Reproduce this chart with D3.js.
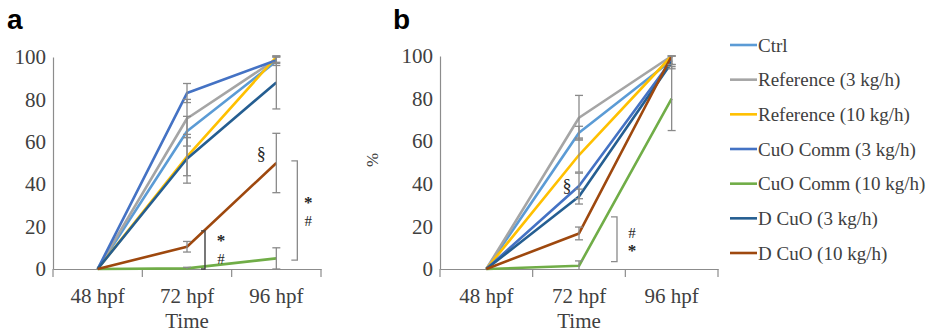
<!DOCTYPE html>
<html><head><meta charset="utf-8">
<script src="https://cdn.jsdelivr.net/npm/d3@7"></script>
<style>body{margin:0;background:#fff}svg{display:block}</style>
</head><body><svg id="c" width="934" height="333"></svg>
<script>
const times = ["48 hpf", "72 hpf", "96 hpf"];
const seriesNames = ["Ctrl", "Reference (3 kg/h)", "Reference (10 kg/h)", "CuO Comm (3 kg/h)", "CuO Comm (10 kg/h)", "D CuO (3 kg/h)", "D CuO (10 kg/h)"];
const seriesColors = ["#5B9BD5", "#A5A5A5", "#FFC000", "#4472C4", "#70AD47", "#255E91", "#9E480E"];
const yTicks = [0, 20, 40, 60, 80, 100];
// panel a
const valuesA = [[0, 65, 98], [0, 71, 99], [0, 53, 100], [0, 83, 98.5], [0, 0.3, 5], [0, 52, 88], [0, 10.5, 50]];
const errorsA = [[0, 7, 2], [0, 9, 1.5], [0, 9, 0], [0, 4.5, 1.5], [0, 0.5, 5], [0, 11.5, 12.5], [0, 2.5, 14]];
// panel b
const valuesB = [[0, 64, 98], [0, 71, 100], [0, 53.5, 100], [0, 39, 98], [0, 1.5, 80], [0, 34, 97], [0, 16.7, 100]];
const errorsB = [[0, 3, 2], [0, 10.5, 0], [0, 8, 0], [0, 6, 2], [0, 2.3, 15], [0, 3.5, 3], [0, 3, 0]];

const svg = d3.select("#c");
const SERIF = "'Liberation Serif', 'DejaVu Serif', serif";
const axisColor = "#8c8c8c";

function panel(opts) {
  const x = d3.scaleBand().domain(times).range(opts.xr).padding(0);
  const y = d3.scaleLinear().domain([0, 100]).range(opts.yr);
  const g = svg.append("g");
  const cx = t => x(t) + x.bandwidth() / 2;

  const ya = g.append("g").attr("transform", `translate(${opts.xr[0]},0)`)
    .call(d3.axisLeft(y).tickValues(yTicks).tickSize(0).tickPadding(7));
  ya.select(".domain").attr("stroke", axisColor).attr("stroke-width", 1.2);
  ya.selectAll("text").attr("font-family", SERIF).attr("font-size", 21).attr("fill", "#404040");

  const xa = g.append("g").attr("transform", `translate(0,${opts.yr[0]})`)
    .call(d3.axisBottom(x).tickSize(0).tickPadding(19));
  xa.select(".domain").attr("stroke", axisColor).attr("stroke-width", 1.2);
  xa.selectAll("text").attr("font-family", SERIF).attr("font-size", 21).attr("fill", "#404040");
  const bounds = times.map(t => x(t)).concat([x(times[times.length - 1]) + x.bandwidth()]);
  g.selectAll(".xt").data(bounds).join("line")
    .attr("x1", d => d).attr("x2", d => d)
    .attr("y1", opts.yr[0]).attr("y2", opts.yr[0] + 8)
    .attr("stroke", axisColor).attr("stroke-width", 1.2);

  const line = d3.line().x((d, i) => cx(times[i])).y(d => y(d));
  opts.values.forEach((vals, s) => {
    g.append("path").attr("d", line(vals)).attr("fill", "none")
      .attr("stroke", seriesColors[s]).attr("stroke-width", 2.6)
      .attr("stroke-linejoin", "round");
  });
  opts.values.forEach((vals, s) => {
    vals.forEach((v, i) => {
      const e = opts.errors[s][i];
      if (!e) return;
      const px = cx(times[i]);
      const lo = y(Math.max(0, v - e)), hi = y(v + e);
      g.append("line").attr("x1", px).attr("x2", px).attr("y1", lo).attr("y2", hi)
        .attr("stroke", "#8a8a8a").attr("stroke-width", 1.3);
      [hi, v - e >= 0 ? lo : null].forEach(yy => {
        if (yy === null) return;
        g.append("line").attr("x1", px - 4).attr("x2", px + 4).attr("y1", yy).attr("y2", yy)
          .attr("stroke", "#8a8a8a").attr("stroke-width", 1.3);
      });
    });
  });

  svg.append("text").attr("x", opts.letterX).attr("y", 29).text(opts.letter)
    .attr("font-family", "'Liberation Sans', Arial, sans-serif").attr("font-weight", "bold")
    .attr("font-size", 28).attr("fill", "#000");
  g.append("text").attr("x", cx(times[1])).attr("y", 328).attr("text-anchor", "middle")
    .text("Time").attr("font-family", SERIF).attr("font-size", 21).attr("fill", "#404040");
  return { x, y, g, cx };
}

function bracket(g, xPos, yTop, yBot, arm, color) {
  g.append("path").attr("d", `M${xPos - arm},${yTop}H${xPos}V${yBot}H${xPos - arm}`)
    .attr("fill", "none").attr("stroke", color).attr("stroke-width", 1.3);
}
function note(g, txt, xx, yy, size) {
  g.append("text").attr("x", xx).attr("y", yy).text(txt).attr("text-anchor", "middle")
    .attr("font-family", SERIF).attr("font-size", size || 17).attr("fill", "#262626");
}
function sym(g, txt, xx, yy) {
  g.append("text").attr("x", xx).attr("y", yy).text(txt).attr("text-anchor", "middle")
    .attr("font-family", SERIF).attr("font-size", txt === "*" ? 17 : 15)
    .attr("font-weight", txt === "*" ? "bold" : "normal").attr("fill", "#262626");
}

// Panel a
const A = panel({ xr: [53, 321], yr: [269, 57], values: valuesA, errors: errorsA, letter: "a", letterX: 7 });
note(A.g, "§", A.cx("96 hpf") - 15, A.y(51.5), 18);
bracket(A.g, A.cx("96 hpf") + 21, A.y(51), A.y(4.2), 6, "#8a8a8a");
sym(A.g, "*", A.cx("96 hpf") + 32, A.y(28.8));
sym(A.g, "#", A.cx("96 hpf") + 32, A.y(20.3));
A.g.append("path")
  .attr("d", `M${A.cx("72 hpf") + 14},${A.y(18)}H${A.cx("72 hpf") + 18}V${A.y(0)}H${A.cx("72 hpf") + 14}`)
  .attr("fill", "none").attr("stroke", "#404040").attr("stroke-width", 1.4);
sym(A.g, "*", A.cx("72 hpf") + 34, A.y(10.8));
sym(A.g, "#", A.cx("72 hpf") + 34, A.y(2.3));

// Panel b
const B = panel({ xr: [440, 718], yr: [269, 56], values: valuesB, errors: errorsB, letter: "b", letterX: 393 });
note(B.g, "§", B.cx("72 hpf") - 12, B.y(36), 18);
bracket(B.g, B.cx("72 hpf") + 38, B.y(24.5), B.y(3.5), 6, "#8a8a8a");
sym(B.g, "#", B.cx("72 hpf") + 53, B.y(14.6));
sym(B.g, "*", B.cx("72 hpf") + 53, B.y(6.1));
svg.append("text").attr("transform", `translate(378,160) rotate(-90)`).attr("text-anchor", "middle")
  .text("%").attr("font-family", SERIF).attr("font-size", 17).attr("fill", "#404040");

// Legend
const leg = svg.append("g");
const ly = d3.scalePoint().domain(seriesNames).range([45, 253]);
seriesNames.forEach((n, i) => {
  leg.append("line").attr("x1", 730).attr("x2", 757).attr("y1", ly(n)).attr("y2", ly(n))
    .attr("stroke", seriesColors[i]).attr("stroke-width", 2.6);
  leg.append("text").attr("x", 758).attr("y", ly(n)).attr("dy", "0.35em").text(n)
    .attr("font-family", SERIF).attr("font-size", 19).attr("fill", "#404040");
});
</script></body></html>
